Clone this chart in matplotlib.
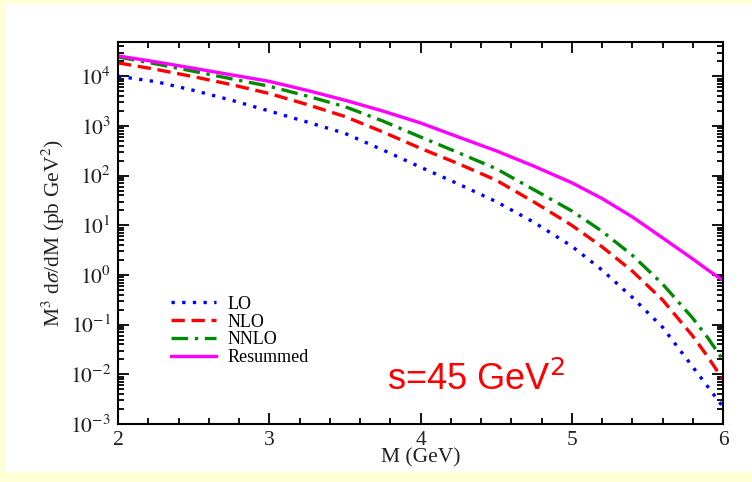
import numpy as np
import matplotlib
matplotlib.use("Agg")
import matplotlib.pyplot as plt
from matplotlib.patches import Rectangle
from matplotlib.ticker import FixedLocator, LogLocator, NullFormatter

plt.rcParams['font.family'] = ['Liberation Serif', 'DejaVu Serif']
plt.rcParams['mathtext.fontset'] = 'stix'

# values (M in GeV, M^3 dsigma/dM in pb GeV^2)
M = [2.0, 2.25, 2.5, 2.75, 3.0, 3.25, 3.5, 3.75, 4.0, 4.25, 4.5, 4.75,
     5.0, 5.2, 5.4, 5.6, 5.8, 5.9, 6.0]
lo = [1.0e4, 7.8e3, 5.2e3, 3.3e3, 2.0e3, 1.2e3, 7.1e2, 3.3e2, 1.48e2, 68,
      30, 11.5, 3.8, 1.26, 0.355, 0.089, 0.0141, 0.0056, 0.0022]
nlo = [1.86e4, 1.38e4, 9.8e3, 6.8e3, 4.5e3, 2.7e3, 1.55e3, 7.6e2, 3.55e2,
       1.74e2, 81, 29.5, 10, 3.7, 1.2, 0.316, 0.059, 0.0224, 0.0078]
nnlo = [2.45e4, 1.78e4, 1.26e4, 8.9e3, 6.3e3, 4.0e3, 2.45e3, 1.26e3, 6.0e2,
        2.9e2, 1.38e2, 52, 19.5, 7.6, 2.5, 0.66, 0.135, 0.054, 0.0195]
resummed = [2.57e4, 1.95e4, 1.45e4, 1.07e4, 7.9e3, 5.2e3, 3.3e3, 2.0e3,
            1.15e3, 6.0e2, 3.16e2, 1.55e2, 72, 34.7, 14.8, 5.6, 2.1, 1.26, 0.78]

xticks = [2, 3, 4, 5, 6]
yticks = [1e-3, 1e-2, 1e-1, 1e0, 1e1, 1e2, 1e3, 1e4]
ytick_labels = [r'$10^{-3}$', r'$10^{-2}$', r'$10^{-1}$', r'$10^{0}$',
                r'$10^{1}$', r'$10^{2}$', r'$10^{3}$', r'$10^{4}$']

fig = plt.figure(figsize=(7.52, 4.82), dpi=100, facecolor='#FFFFD6')
# white slide panel behind the axes
fig.patches.append(Rectangle((6/752, 10/482), 1 - 6/752, 1 - 14/482,
                             transform=fig.transFigure, facecolor='white',
                             edgecolor='none', zorder=-10))

ax = fig.add_axes([118/752, 1 - 424/482, 605/752, 382/482])
ax.set_zorder(5)
lw = 2.4
ax.plot(M, lo, color='#0000FF', lw=lw, linestyle=(0, (1, 2.2)), label='LO')
ax.plot(M, nlo, color='#FF0000', lw=lw, linestyle=(0, (4, 2)), label='NLO')
ax.plot(M, nnlo, color='#008A00', lw=lw, linestyle=(0, (5, 2, 1, 2)), label='NNLO')
ax.plot(M, resummed, color='#FF00FF', lw=lw, linestyle='-', label='Resummed')

ax.set_yscale('log')
ax.set_xlim(2, 6)
ax.set_ylim(1e-3, 4.9e4)

ax.set_xticks(xticks)
ax.set_xticklabels([str(t) for t in xticks])
ax.xaxis.set_minor_locator(FixedLocator(np.arange(2.2, 6.0, 0.2)))
ax.set_yticks(yticks)
ax.set_yticklabels(ytick_labels)
ax.yaxis.set_minor_locator(LogLocator(base=10, subs=np.arange(2, 10), numticks=20))
ax.yaxis.set_minor_formatter(NullFormatter())

ax.tick_params(which='both', direction='in', top=True, right=True,
               width=1.3, labelsize=15.5, color='black', labelcolor='#222222')
ax.tick_params(which='major', length=8, pad=5)
ax.tick_params(which='minor', length=4)
for s in ax.spines.values():
    s.set_linewidth(1.5)

ax.set_xlabel('M (GeV)', fontsize=15.5, labelpad=-1, color='#222222')
ax.set_ylabel(r'M$^3$ d$\sigma$/dM (pb GeV$^2$)', fontsize=15.5, labelpad=2,
              color='#222222')

ax.legend(loc='upper left', bbox_to_anchor=(0.075, 0.355), frameon=False,
          fontsize=13, handlelength=2.5, handletextpad=0.65,
          labelspacing=0.05, borderaxespad=0)

ax.text(0.445, 0.09, r's=45 GeV$^2$', transform=ax.transAxes, color='#FF0000',
        fontsize=26, family=['Liberation Sans', 'DejaVu Sans'],
        math_fontfamily='dejavusans')

fig.savefig('out.png', dpi=100, facecolor=fig.get_facecolor())
